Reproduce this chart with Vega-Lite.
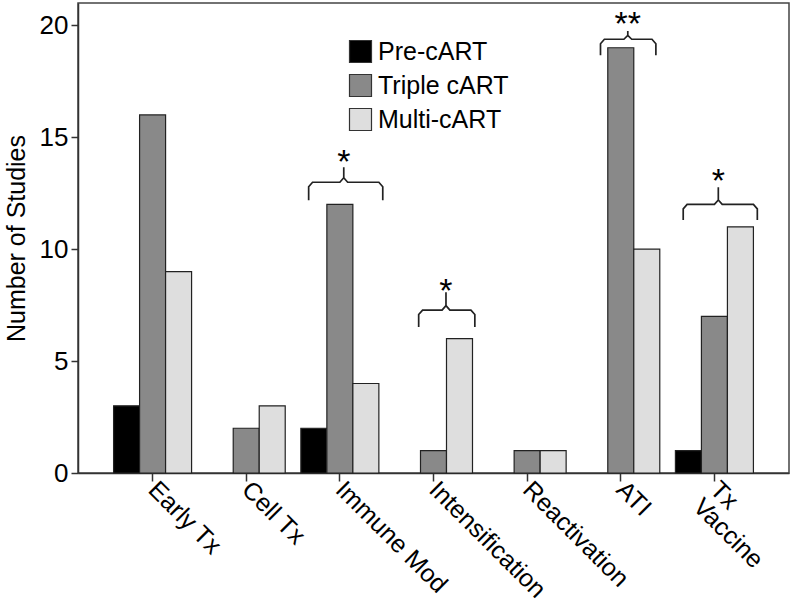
{
  "$schema": "https://vega.github.io/schema/vega-lite/v6.json",
  "width": 711,
  "height": 470,
  "autosize": "none",
  "padding": {"left": 78, "top": 3, "right": 3, "bottom": 136},
  "background": "white",
  "config": {
    "font": "Liberation Sans",
    "view": {"stroke": "#444", "strokeWidth": 1.5},
    "axis": {"domainColor": "#333", "tickColor": "#333", "labelColor": "#000", "titleColor": "#000", "grid": false, "domainWidth": 1.5, "tickWidth": 1.5}
  },
  "datasets": {
    "bars": [
      {"cat": "Early Tx", "group": "Pre-cART", "n": 3},
      {"cat": "Early Tx", "group": "Triple cART", "n": 16},
      {"cat": "Early Tx", "group": "Multi-cART", "n": 9},
      {"cat": "Cell Tx", "group": "Triple cART", "n": 2},
      {"cat": "Cell Tx", "group": "Multi-cART", "n": 3},
      {"cat": "Immune Mod", "group": "Pre-cART", "n": 2},
      {"cat": "Immune Mod", "group": "Triple cART", "n": 12},
      {"cat": "Immune Mod", "group": "Multi-cART", "n": 4},
      {"cat": "Intensification", "group": "Triple cART", "n": 1},
      {"cat": "Intensification", "group": "Multi-cART", "n": 6},
      {"cat": "Reactivation", "group": "Triple cART", "n": 1},
      {"cat": "Reactivation", "group": "Multi-cART", "n": 1},
      {"cat": "ATI", "group": "Triple cART", "n": 19},
      {"cat": "ATI", "group": "Multi-cART", "n": 10},
      {"cat": "Tx Vaccine", "group": "Pre-cART", "n": 1},
      {"cat": "Tx Vaccine", "group": "Triple cART", "n": 7},
      {"cat": "Tx Vaccine", "group": "Multi-cART", "n": 11}
    ],
    "brackets": [
      {"id": "b1", "cat": "Immune Mod", "o": 1, "f": 0.10, "v": 12.19},
      {"id": "b1", "cat": "Immune Mod", "o": 2, "f": 0.10, "v": 12.79},
      {"id": "b1", "cat": "Immune Mod", "o": 3, "f": 0.15, "v": 12.99},
      {"id": "b1", "cat": "Immune Mod", "o": 4, "f": 0.50, "v": 12.99},
      {"id": "b1", "cat": "Immune Mod", "o": 5, "f": 0.55, "v": 13.19},
      {"id": "b1", "cat": "Immune Mod", "o": 6, "f": 0.55, "v": 13.66},
      {"id": "b1", "cat": "Immune Mod", "o": 7, "f": 0.55, "v": 13.19},
      {"id": "b1", "cat": "Immune Mod", "o": 8, "f": 0.60, "v": 12.99},
      {"id": "b1", "cat": "Immune Mod", "o": 9, "f": 1.00, "v": 12.99},
      {"id": "b1", "cat": "Immune Mod", "o": 10, "f": 1.05, "v": 12.79},
      {"id": "b1", "cat": "Immune Mod", "o": 11, "f": 1.05, "v": 12.19},
      {"id": "b2", "cat": "Intensification", "o": 1, "f": 0.31, "v": 6.52},
      {"id": "b2", "cat": "Intensification", "o": 2, "f": 0.31, "v": 7.08},
      {"id": "b2", "cat": "Intensification", "o": 3, "f": 0.36, "v": 7.28},
      {"id": "b2", "cat": "Intensification", "o": 4, "f": 0.61, "v": 7.28},
      {"id": "b2", "cat": "Intensification", "o": 5, "f": 0.66, "v": 7.48},
      {"id": "b2", "cat": "Intensification", "o": 6, "f": 0.66, "v": 8.08},
      {"id": "b2", "cat": "Intensification", "o": 7, "f": 0.66, "v": 7.48},
      {"id": "b2", "cat": "Intensification", "o": 8, "f": 0.71, "v": 7.28},
      {"id": "b2", "cat": "Intensification", "o": 9, "f": 0.98, "v": 7.28},
      {"id": "b2", "cat": "Intensification", "o": 10, "f": 1.03, "v": 7.08},
      {"id": "b2", "cat": "Intensification", "o": 11, "f": 1.03, "v": 6.52},
      {"id": "b3", "cat": "ATI", "o": 1, "f": 0.24, "v": 18.66},
      {"id": "b3", "cat": "ATI", "o": 2, "f": 0.24, "v": 19.18},
      {"id": "b3", "cat": "ATI", "o": 3, "f": 0.29, "v": 19.38},
      {"id": "b3", "cat": "ATI", "o": 4, "f": 0.54, "v": 19.38},
      {"id": "b3", "cat": "ATI", "o": 5, "f": 0.59, "v": 19.55},
      {"id": "b3", "cat": "ATI", "o": 6, "f": 0.59, "v": 19.75},
      {"id": "b3", "cat": "ATI", "o": 7, "f": 0.59, "v": 19.55},
      {"id": "b3", "cat": "ATI", "o": 8, "f": 0.64, "v": 19.38},
      {"id": "b3", "cat": "ATI", "o": 9, "f": 0.90, "v": 19.38},
      {"id": "b3", "cat": "ATI", "o": 10, "f": 0.95, "v": 19.18},
      {"id": "b3", "cat": "ATI", "o": 11, "f": 0.95, "v": 18.66},
      {"id": "b4", "cat": "Tx Vaccine", "o": 1, "f": 0.10, "v": 11.3},
      {"id": "b4", "cat": "Tx Vaccine", "o": 2, "f": 0.10, "v": 11.8},
      {"id": "b4", "cat": "Tx Vaccine", "o": 3, "f": 0.15, "v": 12.0},
      {"id": "b4", "cat": "Tx Vaccine", "o": 4, "f": 0.50, "v": 12.0},
      {"id": "b4", "cat": "Tx Vaccine", "o": 5, "f": 0.55, "v": 12.2},
      {"id": "b4", "cat": "Tx Vaccine", "o": 6, "f": 0.55, "v": 12.77},
      {"id": "b4", "cat": "Tx Vaccine", "o": 7, "f": 0.55, "v": 12.2},
      {"id": "b4", "cat": "Tx Vaccine", "o": 8, "f": 0.60, "v": 12.0},
      {"id": "b4", "cat": "Tx Vaccine", "o": 9, "f": 1.00, "v": 12.0},
      {"id": "b4", "cat": "Tx Vaccine", "o": 10, "f": 1.05, "v": 11.8},
      {"id": "b4", "cat": "Tx Vaccine", "o": 11, "f": 1.05, "v": 11.3}
    ],
    "stars": [
      {"cat": "Immune Mod", "f": 0.55, "v": 14.29, "label": "*"},
      {"cat": "Intensification", "f": 0.66, "v": 8.53, "label": "*"},
      {"cat": "ATI", "f": 0.59, "v": 20.45, "label": "**"},
      {"cat": "Tx Vaccine", "f": 0.55, "v": 13.44, "label": "*"}
    ]
  },
  "encoding": {
    "x": {
      "field": "cat",
      "type": "nominal",
      "sort": ["Early Tx", "Cell Tx", "Immune Mod", "Intensification", "Reactivation", "ATI", "Tx Vaccine"],
      "scale": {"paddingInner": 0.167, "paddingOuter": 0.38},
      "axis": {
        "title": null,
        "labelAngle": 45,
        "labelAlign": "left",
        "labelBaseline": "middle",
        "labelFontSize": 25,
        "labelPadding": 4,
        "labelLineHeight": 24,
        "tickSize": 8,
        "labelExpr": "datum.label == 'Tx Vaccine' ? ['Tx', 'Vaccine'] : datum.label"
      }
    },
    "y": {
      "type": "quantitative",
      "scale": {"domain": [0, 21], "nice": false},
      "axis": {
        "title": "Number of Studies",
        "titleFontSize": 25,
        "titleFontWeight": "normal",
        "titlePadding": 10,
        "labelFontSize": 26,
        "labelPadding": 3,
        "tickSize": 7,
        "values": [0, 5, 10, 15, 20]
      }
    }
  },
  "layer": [
    {
      "data": {"name": "bars"},
      "mark": {"type": "bar", "stroke": "#222", "strokeWidth": 1.2},
      "encoding": {
        "y": {"field": "n", "type": "quantitative"},
        "xOffset": {
          "field": "group",
          "type": "nominal",
          "sort": ["Pre-cART", "Triple cART", "Multi-cART"],
          "scale": {"paddingInner": 0, "paddingOuter": 0}
        },
        "fill": {
          "field": "group",
          "type": "nominal",
          "sort": ["Pre-cART", "Triple cART", "Multi-cART"],
          "scale": {"domain": ["Pre-cART", "Triple cART", "Multi-cART"], "range": ["#000000", "#898989", "#dedede"]},
          "legend": {
            "title": null,
            "orient": "none",
            "legendX": 270,
            "legendY": 36,
            "symbolType": "square",
            "symbolSize": 484,
            "symbolStrokeColor": "#333",
            "symbolStrokeWidth": 1.2,
            "labelFontSize": 25,
            "labelColor": "#000",
            "labelOffset": 5,
            "rowPadding": 7
          }
        }
      }
    },
    {
      "data": {"name": "brackets"},
      "mark": {"type": "line", "color": "#222", "strokeWidth": 1.7},
      "encoding": {
        "y": {"field": "v", "type": "quantitative"},
        "xOffset": {"field": "f", "type": "quantitative", "scale": {"domain": [0, 1], "nice": false, "zero": false}},
        "detail": {"field": "id"},
        "order": {"field": "o", "type": "quantitative"}
      }
    },
    {
      "data": {"name": "stars"},
      "mark": {"type": "text", "fontSize": 34, "color": "#000", "baseline": "alphabetic", "dy": 20},
      "encoding": {
        "y": {"field": "v", "type": "quantitative"},
        "xOffset": {"field": "f", "type": "quantitative", "scale": {"domain": [0, 1], "nice": false, "zero": false}},
        "text": {"field": "label"}
      }
    }
  ],
  "resolve": {"scale": {"xOffset": "independent"}}
}
